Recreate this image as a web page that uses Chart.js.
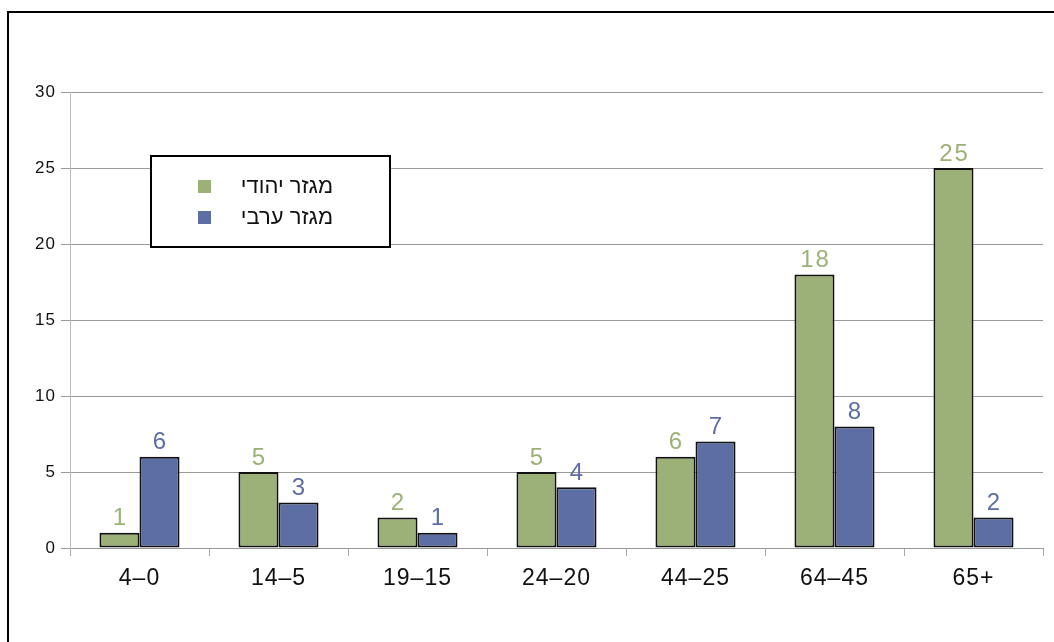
<!DOCTYPE html>
<html>
<head>
<meta charset="utf-8">
<script src="https://cdn.jsdelivr.net/npm/chart.js@4"></script>
<style>
  body { margin: 0; background: #fff; }
  #wrap { position: relative; width: 1054px; height: 642px; overflow: hidden; }
  #frame { position: absolute; left: 7px; top: 11px; width: 1100px; height: 700px;
           border-left: 2px solid #000; border-top: 2px solid #000; }
  canvas { position: absolute; left: 0; top: 0; }
</style>
</head>
<body>
<div id="wrap">
  <div id="frame"></div>
  <canvas id="ageChart" width="1054" height="642"></canvas>
</div>
<script>
const ageGroups = ["4–0", "14–5", "19–15", "24–20", "44–25", "64–45", "65+"];
const jewishSector = [1, 5, 2, 5, 6, 18, 25];
const arabSector = [6, 3, 1, 4, 7, 8, 2];
const seriesNames = ["מגזר יהודי", "מגזר ערבי"];
const yTicks = [0, 5, 10, 15, 20, 25, 30];

const green = "#9bb177";
const blue = "#5d6ea4";
const font = "'Liberation Sans', Arial, sans-serif";

// the source renders its text a little wider than Liberation Sans
const spacing = {
  id: "spacing",
  beforeDraw(chart) {
    chart.ctx.letterSpacing = "1px";
  },
};

// numbers above each bar, in the series colour
const valueLabels = {
  id: "valueLabels",
  afterDatasetsDraw(chart) {
    const ctx = chart.ctx;
    ctx.save();
    ctx.letterSpacing = "2px";
    ctx.font = "24px " + font;
    ctx.textAlign = "center";
    ctx.textBaseline = "bottom";
    chart.data.datasets.forEach((ds, i) => {
      ctx.fillStyle = ds.backgroundColor;
      chart.getDatasetMeta(i).data.forEach((bar, j) => {
        ctx.fillText(ds.data[j], bar.x + 1, bar.y - 2);
      });
    });
    ctx.restore();
  },
};

// boxed legend inside the plot
const boxLegend = {
  id: "boxLegend",
  afterDraw(chart) {
    const ctx = chart.ctx;
    const a = chart.chartArea;
    const x = a.left + 81, y = a.top + 64, w = 239, h = 91;
    ctx.save();
    ctx.letterSpacing = "0px";
    ctx.fillStyle = "#fff";
    ctx.fillRect(x, y, w, h);
    ctx.strokeStyle = "#000";
    ctx.lineWidth = 2;
    ctx.strokeRect(x, y, w, h);
    ctx.font = "22px " + font;
    ctx.textAlign = "right";
    ctx.textBaseline = "middle";
    chart.data.datasets.forEach((ds, i) => {
      const cy = y + 31 + i * 31;
      ctx.fillStyle = ds.backgroundColor;
      ctx.fillRect(x + 47, cy - 7, 13, 13);
      ctx.fillStyle = "#111";
      ctx.fillText(ds.label, x + 182, cy);
    });
    ctx.restore();
  },
};

new Chart(document.getElementById("ageChart"), {
  type: "bar",
  data: {
    labels: ageGroups,
    datasets: [
      {
        label: seriesNames[0],
        data: jewishSector,
        backgroundColor: green,
        borderColor: "#111",
        borderWidth: 2,
        borderSkipped: false,
      },
      {
        label: seriesNames[1],
        data: arabSector,
        backgroundColor: blue,
        borderColor: "#111",
        borderWidth: 2,
        borderSkipped: false,
      },
    ],
  },
  options: {
    responsive: false,
    animation: false,
    devicePixelRatio: 1,
    categoryPercentage: 0.576,
    barPercentage: 1,
    layout: { padding: { left: 0, top: 92, right: 11, bottom: 0 } },
    plugins: {
      legend: { display: false },
      tooltip: { enabled: false },
    },
    scales: {
      x: {
        afterFit: (s) => { s.height = 94; },
        grid: {
          offset: true,
          drawOnChartArea: false,
          drawTicks: true,
          tickLength: 8,
          color: "#aaa",
        },
        border: { display: true, color: "#999" },
        ticks: {
          color: "#111",
          padding: 9,
          font: { family: font, size: 23 },
        },
      },
      y: {
        min: 0,
        max: 30,
        afterFit: (s) => { s.width = 70; },
        afterBuildTicks: (s) => { s.ticks = yTicks.map((v) => ({ value: v })); },
        grid: { color: "#9a9a9a", tickLength: 9 },
        border: { display: true, color: "#bbb" },
        ticks: {
          color: "#111",
          padding: 5,
          font: { family: font, size: 17 },
        },
      },
    },
  },
  plugins: [spacing, valueLabels, boxLegend],
});
</script>
</body>
</html>
